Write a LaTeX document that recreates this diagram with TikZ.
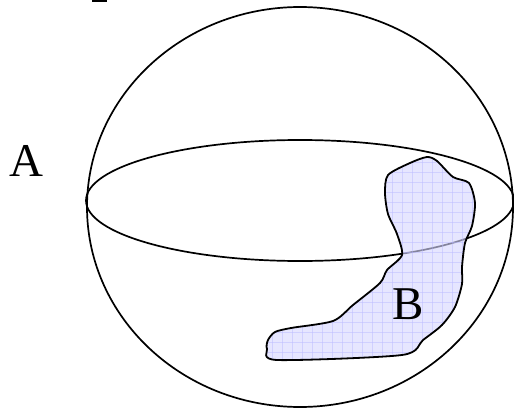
\documentclass[tikz,border=0pt]{standalone}
\usepackage{fontspec}
\setmainfont{Liberation Serif}
\definecolor{ink}{HTML}{000000}
\definecolor{lilac}{HTML}{D6D6FF}
\definecolor{gridline}{HTML}{B8B8FF}

\begin{document}
\begin{tikzpicture}[x=1pt,y=-1pt]
      \useasboundingbox (0,0) rectangle (514,409);
      \fill[ink] (92,0) rectangle (107,1.8);
      % sphere and equator
      \draw[ink,line width=1.7pt] (300,207) ellipse [x radius=213,y radius=200];
      \draw[ink,line width=1.7pt] (300,200.5) ellipse [x radius=214,y radius=60.5];
      % region B
      \def\blobpath{plot[smooth cycle,tension=0.45] coordinates {
        (388,175) (410,163) (427,157) (437,161) (453,177) (469,183) (475,203)
        (472,226) (465,243) (462,267) (462,284) (455,307) (442,325) (423,340)
        (402,355) (277,360) (267,349) (268,340) (275,332) (291,328) (333,321)
        (353,305) (380,283) (387,270) (402,255) (397,234) (388,214) (385,193)}}
      \fill[lilac,fill opacity=.62] \blobpath;
      \begin{scope}
        \clip \blobpath;
        \foreach \gx in {262,272,...,482}
          \draw[gridline,opacity=.45,line width=.6pt] (\gx,150) -- (\gx,365);
        \foreach \gy in {152,162,...,362}
          \draw[gridline,opacity=.45,line width=.6pt] (260,\gy) -- (480,\gy);
      \end{scope}
      \draw[ink,line width=1.8pt,line join=round] \blobpath;
      \node[inner sep=0pt,font=\fontsize{47}{47}\selectfont] (a) at (26,161) {A};
      \node[inner sep=0pt,font=\fontsize{47}{47}\selectfont] (b) at (408,304) {B};
    \end{tikzpicture}
\end{document}
